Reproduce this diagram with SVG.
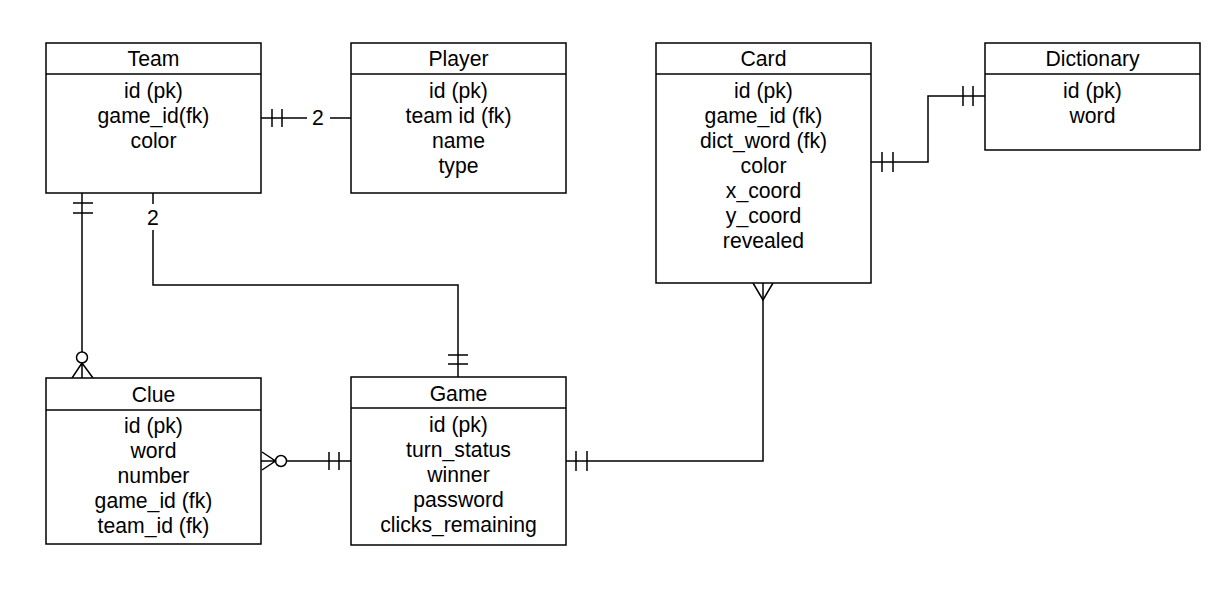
<svg xmlns="http://www.w3.org/2000/svg" width="1228" height="616" viewBox="0 0 1228 616">
<style>
.box{fill:#fff;stroke:#000;stroke-width:1.5}
.hd{stroke:#000;stroke-width:1.5}
.t{font-family:"Liberation Sans",Arial,sans-serif;font-size:21.2px;fill:#000;text-anchor:middle}
.c{fill:none;stroke:#000;stroke-width:1.5}
</style>
<rect width="1228" height="616" fill="#fff"/>
<g id="connectors">
<path class="c" d="M261,118 H307 M330,118 H351"/>
<path class="c" d="M272,109 V127 M282,109 V127"/>
<text class="t" x="318" y="125">2</text>
<path class="c" d="M82,193 V352"/>
<path class="c" d="M73,203 H93 M73,213 H93"/>
<circle class="c" cx="82" cy="357.5" r="5.5"/>
<path class="c" d="M82,363 L72,378 M82,363 V378 M82,363 L93,378"/>
<path class="c" d="M153,193 V204 M153,230 V285 H458 V377"/>
<text class="t" x="153" y="225">2</text>
<path class="c" d="M448,355 H468 M448,364 H468"/>
<path class="c" d="M286.5,461 H351"/>
<circle class="c" cx="281" cy="461" r="5.5"/>
<path class="c" d="M262,452 L275.5,461 L262,470 M261,461 H275.5"/>
<path class="c" d="M329,452 V470 M339,452 V470"/>
<path class="c" d="M566,461 H763 V283"/>
<path class="c" d="M576,451 V471 M587,451 V471"/>
<path class="c" d="M753,283 L763,300 L773,283"/>
<path class="c" d="M871,162 H928 V96 H985"/>
<path class="c" d="M882,152 V172 M893,152 V172"/>
<path class="c" d="M963,86 V106 M973,86 V106"/>
</g>
<g id="team">
<rect class="box" x="46" y="43" width="215" height="150"/>
<line class="hd" x1="46" y1="74" x2="261" y2="74"/>
<text class="t" x="153.5" y="66">Team</text>
<text class="t" x="153.5" y="98">id (pk)</text>
<text class="t" x="153.5" y="123">game_id(fk)</text>
<text class="t" x="153.5" y="148">color</text>
</g>
<g id="player">
<rect class="box" x="351" y="43" width="215" height="150"/>
<line class="hd" x1="351" y1="74" x2="566" y2="74"/>
<text class="t" x="458.5" y="66">Player</text>
<text class="t" x="458.5" y="98">id (pk)</text>
<text class="t" x="458.5" y="123">team id (fk)</text>
<text class="t" x="458.5" y="148">name</text>
<text class="t" x="458.5" y="173">type</text>
</g>
<g id="card">
<rect class="box" x="656" y="43" width="215" height="240"/>
<line class="hd" x1="656" y1="74" x2="871" y2="74"/>
<text class="t" x="763.5" y="66">Card</text>
<text class="t" x="763.5" y="98">id (pk)</text>
<text class="t" x="763.5" y="123">game_id (fk)</text>
<text class="t" x="763.5" y="148">dict_word (fk)</text>
<text class="t" x="763.5" y="173">color</text>
<text class="t" x="763.5" y="198">x_coord</text>
<text class="t" x="763.5" y="223">y_coord</text>
<text class="t" x="763.5" y="248">revealed</text>
</g>
<g id="dictionary">
<rect class="box" x="985" y="43" width="215" height="107"/>
<line class="hd" x1="985" y1="74" x2="1200" y2="74"/>
<text class="t" x="1092.5" y="66">Dictionary</text>
<text class="t" x="1092.5" y="98">id (pk)</text>
<text class="t" x="1092.5" y="123">word</text>
</g>
<g id="clue">
<rect class="box" x="46" y="378" width="215" height="166"/>
<line class="hd" x1="46" y1="410" x2="261" y2="410"/>
<text class="t" x="153.5" y="402">Clue</text>
<text class="t" x="153.5" y="433">id (pk)</text>
<text class="t" x="153.5" y="458">word</text>
<text class="t" x="153.5" y="483">number</text>
<text class="t" x="153.5" y="508">game_id (fk)</text>
<text class="t" x="153.5" y="533">team_id (fk)</text>
</g>
<g id="game">
<rect class="box" x="351" y="377" width="215" height="168"/>
<line class="hd" x1="351" y1="408" x2="566" y2="408"/>
<text class="t" x="458.5" y="401">Game</text>
<text class="t" x="458.5" y="432">id (pk)</text>
<text class="t" x="458.5" y="457">turn_status</text>
<text class="t" x="458.5" y="482">winner</text>
<text class="t" x="458.5" y="507">password</text>
<text class="t" x="458.5" y="532">clicks_remaining</text>
</g>
</svg>
